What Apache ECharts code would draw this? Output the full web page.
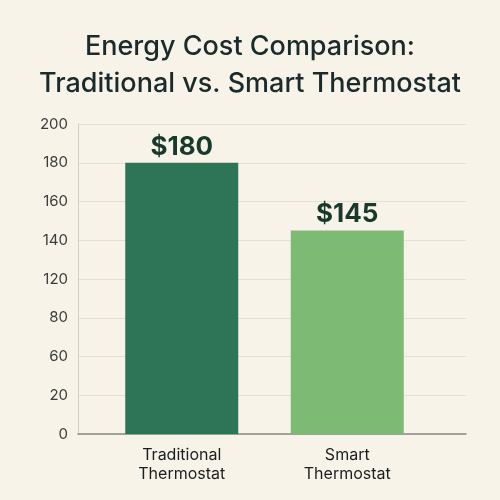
<!DOCTYPE html>
<html>
<head>
<meta charset="utf-8">
<script src="https://cdn.jsdelivr.net/npm/echarts@6/dist/echarts.min.js"></script>
<style>
  html, body { margin: 0; padding: 0; background: #f7f3e9; }
  #main { width: 500px; height: 500px; }
</style>
</head>
<body>
<div id="main"></div>
<script type="text/javascript">

var categories = ['Traditional\nThermostat', 'Smart\nThermostat'];
var costs = [180, 145];
var barColors = ['#2e7557', '#7dba74'];
// tick labels as printed on the picture (evenly spaced, 100 and 40 missing)
var tickLabels = [0, 20, 60, 80, 120, 140, 160, 180, 200];

// place a value on the printed axis, between the two ticks around it
function onAxis(v) {
    for (var i = 0; i < tickLabels.length - 1; i++) {
        if (v <= tickLabels[i + 1]) {
            return i + (v - tickLabels[i]) / (tickLabels[i + 1] - tickLabels[i]);
        }
    }
    return tickLabels.length - 1;
}

var font = 'Inter, "Noto Sans", sans-serif';

var option = {
    backgroundColor: '#f7f3e9',
    animation: false,
    title: {
        text: 'Energy Cost Comparison:\nTraditional vs. Smart Thermostat',
        left: 'center',
        top: 23,
        textStyle: {
            fontFamily: font,
            fontSize: 27,
            fontWeight: 500,
            color: '#1b2a2a',
            lineHeight: 37
        }
    },
    grid: [
        { left: 78, right: 34, top: 124, bottom: 66 },
        { left: 99, right: 70, top: 124, bottom: 66 }
    ],
    xAxis: [
        {
            gridIndex: 0,
            type: 'category',
            data: categories,
            axisLine: { show: true, lineStyle: { color: '#888a84', width: 1.5 } },
            axisTick: { show: false },
            axisLabel: { show: false }
        },
        {
            gridIndex: 1,
            type: 'category',
            data: categories,
            axisLine: { show: false },
            axisTick: { show: false },
            axisLabel: {
                margin: 12,
                fontFamily: font,
                fontSize: 16,
                lineHeight: 19,
                color: '#1a1e1e'
            }
        }
    ],
    yAxis: [
        {
            gridIndex: 0,
            type: 'value',
            min: 0,
            max: tickLabels.length - 1,
            interval: 1,
            axisLine: { show: true, lineStyle: { color: '#d3d0c6', width: 1 } },
            axisTick: { show: false },
            splitLine: { lineStyle: { color: '#e4dfd3', width: 1 } },
            axisLabel: {
                margin: 10,
                fontFamily: font,
                fontSize: 15,
                color: '#3a3d3c',
                formatter: function (v) { return tickLabels[v]; }
            }
        },
        {
            gridIndex: 1,
            type: 'value',
            min: 0,
            max: tickLabels.length - 1,
            interval: 1,
            show: false,
            splitLine: { show: false }
        }
    ],
    series: [
        {
            type: 'bar',
            xAxisIndex: 1,
            yAxisIndex: 1,
            barWidth: 113,
            data: costs.map(function (c, i) {
                return { value: onAxis(c), itemStyle: { color: barColors[i] } };
            }),
            label: {
                show: true,
                position: 'top',
                distance: 3,
                fontFamily: font,
                fontSize: 26,
                fontWeight: 'bold',
                color: '#183a2d',
                formatter: function (p) { return '$' + costs[p.dataIndex]; }
            }
        }
    ]
};

var chart = echarts.init(document.getElementById('main'));
chart.setOption(option);
</script>
</body>
</html>
